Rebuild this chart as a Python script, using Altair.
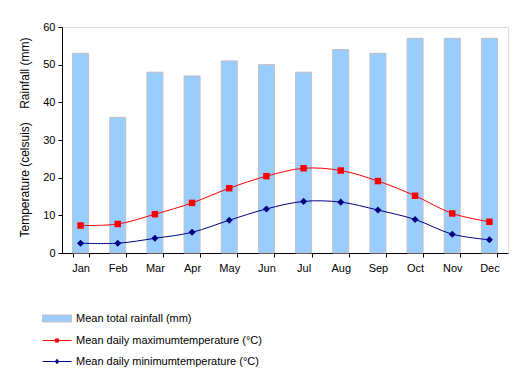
import altair as alt
import pandas as pd

months = ["Jan", "Feb", "Mar", "Apr", "May", "Jun", "Jul", "Aug", "Sep", "Oct", "Nov", "Dec"]
rainfall = [53, 36, 48, 47, 51, 50, 48, 54, 53, 57, 57, 57]
tmax = [7.3, 7.7, 10.3, 13.3, 17.2, 20.4, 22.5, 21.9, 19.1, 15.2, 10.5, 8.3]
tmin = [2.6, 2.6, 3.9, 5.5, 8.7, 11.7, 13.7, 13.5, 11.4, 8.9, 5.0, 3.5]
yticks = [0, 10, 20, 30, 40, 50, 60]

RAIN_LABEL = "Mean total rainfall (mm)"
MAX_LABEL = "Mean daily maximumtemperature (°C)"
MIN_LABEL = "Mean daily minimumtemperature (°C)"

df = pd.DataFrame({
    "month": months,
    "rain": rainfall,
    "tmax": tmax,
    "tmin": tmin,
    "rl": [RAIN_LABEL] * 12,
    "ml": [MAX_LABEL] * 12,
    "nl": [MIN_LABEL] * 12,
})

FONT = "Liberation Sans"

x = alt.X(
    "month:N", sort=months, title=None,
    scale=alt.Scale(paddingInner=0.57, paddingOuter=0.285),
    axis=alt.Axis(labelAngle=0, tickBand="extent", tickSize=4, labelPadding=5,
                  domainColor="black", tickColor="black", labelColor="black",
                  labelFont=FONT, labelFontSize=11, grid=False),
)
yscale = alt.Scale(domain=[0, 60], nice=False, zero=True)
NB = "\u00a0"
yaxis = alt.Axis(values=yticks, tickCount=7, labelOverlap=False, tickSize=4, labelPadding=3,
                 domainColor="black", tickColor="black", labelColor="black",
                 labelFont=FONT, labelFontSize=11, grid=False,
                 title="Temperature (celsuis)" + NB * 4 + "Rainfall (mm)",
                 titleFont=FONT, titleFontSize=12, titleFontWeight="normal",
                 titleColor="black", titlePadding=11, titleY=110)

def leg(symbol, y, fillc, strokec):
    return alt.Legend(
        title=None, orient="none", legendX=-20, legendY=y, padding=0,
        symbolType=symbol, symbolSize=841, symbolStrokeWidth=1,
        symbolFillColor=fillc, symbolStrokeColor=strokec,
        labelFont=FONT, labelFontSize=11, labelColor="black", labelOffset=4,
        labelLimit=400,
    )

RECT = "M-1,-0.24H1V0.24H-1Z"
SQ_LINE = "M-1,0H1M-0.11,-0.11H0.11V0.11H-0.11Z"
DI_LINE = "M-1,0H1M0,-0.15L0.12,0L0,0.15L-0.12,0Z"

base = alt.Chart(df)

def Y(field):
    return alt.Y(field, type="quantitative", scale=yscale, axis=yaxis)

bars = base.mark_bar(stroke="#C0C0C0", strokeWidth=1).encode(
    x=x,
    y=Y("rain"),
    fill=alt.Fill("rl:N", scale=alt.Scale(range=["#99CCFF"]),
                  legend=leg(RECT, 276.5, "#99CCFF", "#C0C0C0")),
)

max_color = alt.Color("ml:N", scale=alt.Scale(range=["#FF0000"]),
                      legend=leg(SQ_LINE, 298.5, "#FF0000", "#FF0000"))
max_line = base.mark_line(interpolate="catmull-rom", strokeWidth=1).encode(
    x=x, y=Y("tmax"), color=max_color)
max_pts = base.mark_point(shape="square", filled=True, size=42, opacity=1).encode(
    x=x, y=Y("tmax"), color=max_color)

min_color = alt.Color("nl:N", scale=alt.Scale(range=["#000080"]),
                      legend=leg(DI_LINE, 319.5, "#000080", "#000080"))
min_line = base.mark_line(interpolate="catmull-rom", strokeWidth=1).encode(
    x=x, y=Y("tmin"), color=min_color)
min_pts = base.mark_point(shape="diamond", filled=True, size=50, opacity=1).encode(
    x=x, y=Y("tmin"), color=min_color)

chart = alt.layer(
    bars,
    alt.layer(max_line, max_pts),
    alt.layer(min_line, min_pts),
).resolve_scale(color="independent").properties(
    width=446, height=226,
    autosize=alt.AutoSizeParams(type="none"),
    padding={"left": 62, "top": 27, "right": 18, "bottom": 124},
).configure_view(stroke=None).configure(background="white")

chart.save("out.html", embed_options={"renderer": "svg", "actions": False})
